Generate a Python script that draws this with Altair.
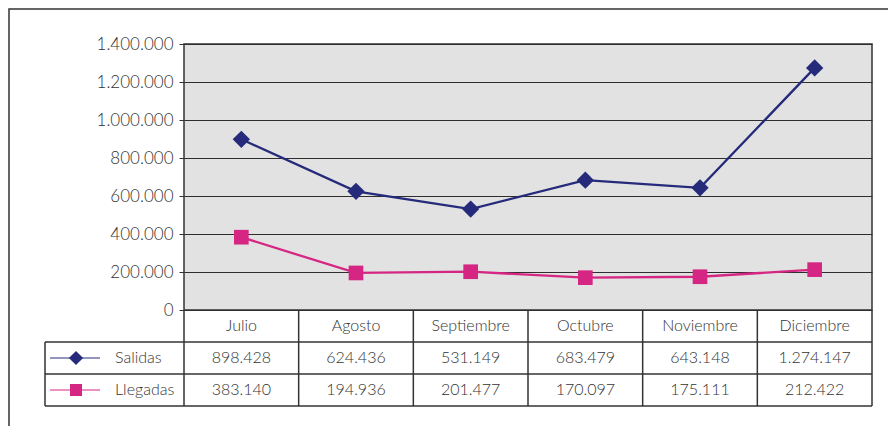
import altair as alt
import pandas as pd

months = ["Julio", "Agosto", "Septiembre", "Octubre", "Noviembre", "Diciembre"]
salidas = [898428, 624436, 531149, 683479, 643148, 1274147]
llegadas = [383140, 194936, 201477, 170097, 175111, 212422]
series = ["Salidas", "Llegadas"]
colors = ["#252a7a", "#d62683"]
shapes = ["diamond", "square"]
y_ticks = [0, 200000, 400000, 600000, 800000, 1000000, 1200000, 1400000]

W, H = 688, 266
STEP = W / len(months)
ROW = 32
FONT = "Lato"
FW = 300
FS = 16
TXT = "#333333"
LINE = "#333333"

rows = []
for s, vals in zip(series, [salidas, llegadas]):
    for m, v in zip(months, vals):
        rows.append({"mes": m, "serie": s, "valor": v,
                     "etiqueta": f"{v:,}".replace(",", ".")})
df = pd.DataFrame(rows)
one = pd.DataFrame({"k": [0]})
mdf = pd.DataFrame({"mes": months})

x = alt.X("mes:N", sort=months, scale=alt.Scale(type="point", padding=0.5), axis=None)
y = alt.Y(
    "valor:Q",
    scale=alt.Scale(domain=[0, 1400000], nice=False, zero=True),
    axis=alt.Axis(
        values=y_ticks, grid=True, gridColor="#2e2e2e", gridWidth=1,
        domain=False, ticks=True, tickColor=LINE, tickSize=5, tickWidth=1,
        labelFont=FONT, labelFontSize=17, labelFontWeight=FW, labelColor=TXT, labelPadding=6,
        labelExpr="replace(format(datum.value, ',d'), regexp(',', 'g'), '.')",
        title=None,
    ),
)
color = alt.Color("serie:N", scale=alt.Scale(domain=series, range=colors), legend=None)

layers = []
# outer frame
layers.append(alt.Chart(one).mark_rect(fillOpacity=0, stroke=LINE, strokeWidth=1.5).encode(
    x=alt.value(-175), y=alt.value(-35), x2=alt.value(900), y2=alt.value(600)))

layers.append(alt.Chart(df).mark_line(strokeWidth=2.3).encode(x=x, y=y, color=color))
for s, shp, sz in zip(series, shapes, [300, 215]):
    layers.append(alt.Chart(df).transform_filter(alt.datum.serie == s).mark_point(
        shape=shp, filled=True, size=sz, opacity=1).encode(x=x, y=y, color=color))

# table grid
for yv in [H + ROW, H + 2 * ROW, H + 3 * ROW]:
    layers.append(alt.Chart(one).mark_rule(color=LINE, strokeWidth=1.5).encode(
        x=alt.value(-139), x2=alt.value(W), y=alt.value(yv)))
layers.append(alt.Chart(mdf).mark_rule(color=LINE, strokeWidth=1.5, xOffset=STEP / 2).encode(
    x=x, y=alt.value(H), y2=alt.value(H + 3 * ROW)))
layers.append(alt.Chart(one).mark_rule(color=LINE, strokeWidth=1.5).encode(
    x=alt.value(0), y=alt.value(H), y2=alt.value(H + 3 * ROW)))
layers.append(alt.Chart(one).mark_rule(color=LINE, strokeWidth=1.5).encode(
    x=alt.value(-139), y=alt.value(H + ROW), y2=alt.value(H + 3 * ROW)))

# header
layers.append(alt.Chart(mdf).mark_text(font=FONT, fontSize=FS, fontWeight=FW, color=TXT, baseline="middle").encode(
    x=x, y=alt.value(H + ROW / 2), text="mes:N"))
# values + legend column
for i, (s, shp, c, sz) in enumerate(zip(series, shapes, colors, [200, 144])):
    yc = H + ROW * (i + 1) + ROW / 2
    layers.append(alt.Chart(df).transform_filter(alt.datum.serie == s).mark_text(
        font=FONT, fontSize=FS, fontWeight=FW, color=TXT, baseline="middle").encode(
        x=x, y=alt.value(yc), text="etiqueta:N"))
    layers.append(alt.Chart(one).mark_rule(color=c, strokeWidth=1.2).encode(
        x=alt.value(-134), x2=alt.value(-84), y=alt.value(yc)))
    layers.append(alt.Chart(one).mark_point(shape=shp, filled=True, size=sz, opacity=1, color=c).encode(
        x=alt.value(-108), y=alt.value(yc)))
    layers.append(alt.Chart(pd.DataFrame({"t": [s]})).mark_text(
        font=FONT, fontSize=FS, fontWeight=FW, color=TXT, align="left", baseline="middle").encode(
        x=alt.value(-69), y=alt.value(yc), text="t:N"))

chart = alt.layer(*layers).properties(
    width=W, height=H,
    padding={"left": 176, "top": 36, "right": 16, "bottom": 116},
    autosize=alt.AutoSizeParams(type="none"),
).configure_view(fill="#e1e2e1", stroke=LINE, strokeWidth=1.5)

chart.save("out.html", embed_options={"renderer": "svg", "actions": False})
